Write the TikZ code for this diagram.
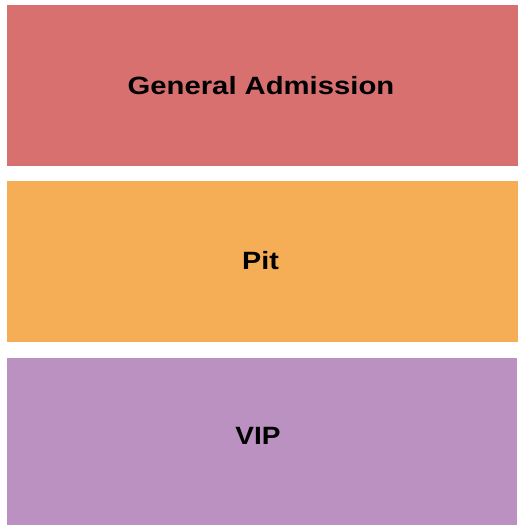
\documentclass[tikz,border=0pt]{standalone}
\usepackage{fontspec}
\setmainfont{Liberation Sans}
\definecolor{gacol}{RGB}{216,112,112}
\definecolor{pitcol}{RGB}{245,174,86}
\definecolor{vipcol}{RGB}{186,145,193}
\begin{document}
\begin{tikzpicture}[x=1pt,y=-1pt,
  lab/.style={anchor=base,inner sep=0pt,font=\fontsize{25}{30}\selectfont\bfseries,text=black}]
\useasboundingbox (0,0) rectangle (525,525);
\fill[white] (0,0) rectangle (525,525);
\fill[gacol] (7,5) rectangle (518,166);
\fill[pitcol] (7,181) rectangle (518,342);
\fill[vipcol] (7,358) rectangle (517,525);
\node[lab] (ga) at (261,94) {\scalebox{1.17}[1]{General Admission}};
\node[lab] (pit) at (260.5,269) {\scalebox{1.15}[1]{Pit}};
\node[lab] (vip) at (258,444) {\scalebox{1.12}[1]{VIP}};
\end{tikzpicture}
\end{document}
